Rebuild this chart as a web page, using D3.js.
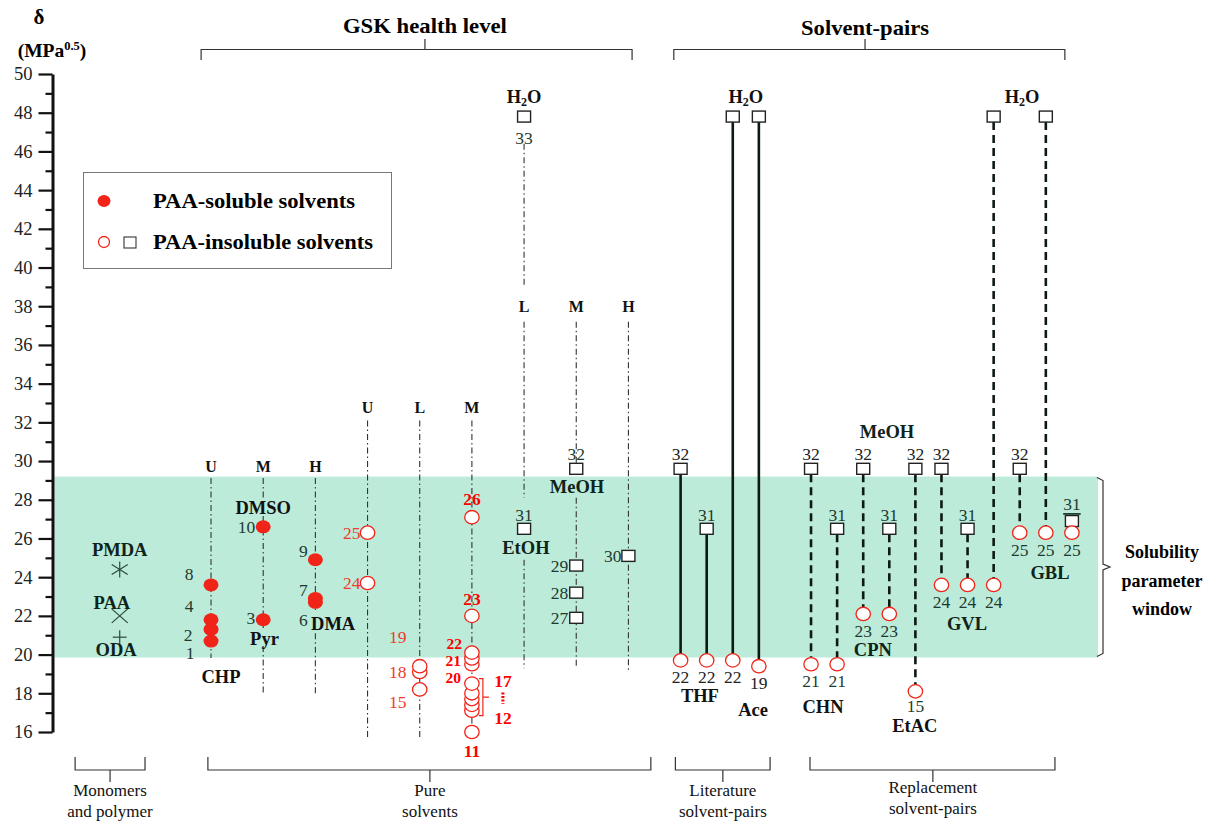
<!DOCTYPE html>
<html><head><meta charset="utf-8">
<script src="https://cdn.jsdelivr.net/npm/d3@7"></script>
<style>
body{margin:0;background:#fff;}
</style></head>
<body><svg id="chart" width="1205" height="822" font-family="Liberation Serif, Times New Roman, DejaVu Serif, serif"></svg>
<script>
// ---------------- DATA ----------------
const yTicks = [16,18,20,22,24,26,28,30,32,34,36,38,40,42,44,46,48,50];
const yMinorTicks = [17,19,21,23,25,27,29,31,33,35,37,39,41,43,45,47,49];
const solubilityWindow = [19.85, 29.2];

const monomers = [
  {name:'PMDA', delta:24.4, symbol:'asterisk'},
  {name:'PAA',  delta:22.0, symbol:'times'},
  {name:'ODA',  delta:20.9, symbol:'plus'}
];

// categorical columns (slot = category index on the x axis)
const columns = [
  {key:'CHP', slot:6,  level:'U', group:'a'},
  {key:'DMSO',slot:8,  level:'M', group:'a'},
  {key:'DMA', slot:10, level:'H', group:'a'},
  {key:'pU',  slot:12, level:'U', group:'b'},
  {key:'pL',  slot:14, level:'L', group:'b'},
  {key:'pM',  slot:16, level:'M', group:'b'},
  {key:'aL',  slot:18, level:'L', group:'c'},
  {key:'aM',  slot:20, level:'M', group:'c'},
  {key:'aH',  slot:22, level:'H', group:'c'}
];

const solubleSolvents = [
  {id:1, col:'CHP', delta:20.7}, {id:2, col:'CHP', delta:21.3},
  {id:4, col:'CHP', delta:21.8}, {id:8, col:'CHP', delta:23.6},
  {id:3, col:'DMSO', delta:21.8}, {id:10, col:'DMSO', delta:26.6},
  {id:6, col:'DMA', delta:22.7}, {id:7, col:'DMA', delta:22.9}, {id:9, col:'DMA', delta:24.9}
];

const insolubleCircles = [
  {id:24, col:'pU', delta:23.7}, {id:25, col:'pU', delta:26.3},
  {id:15, col:'pL', delta:18.2}, {id:18, col:'pL', delta:19.1}, {id:19, col:'pL', delta:19.4},
  {id:11, col:'pM', delta:16.0},
  {id:12, col:'pM', delta:17.1}, {id:13, col:'pM', delta:17.4}, {id:14, col:'pM', delta:17.7},
  {id:16, col:'pM', delta:18.0}, {id:17, col:'pM', delta:18.5},
  {id:20, col:'pM', delta:19.5}, {id:21, col:'pM', delta:19.8}, {id:22, col:'pM', delta:20.1},
  {id:23, col:'pM', delta:22.0}, {id:26, col:'pM', delta:27.1}
];

const insolubleSquares = [
  {id:33, col:'aL', delta:47.8}, {id:31, col:'aL', delta:26.5},
  {id:32, col:'aM', delta:29.6}, {id:29, col:'aM', delta:24.6},
  {id:28, col:'aM', delta:23.2}, {id:27, col:'aM', delta:21.9},
  {id:30, col:'aH', delta:25.1}
];

const literaturePairs = [
  {slot:24, top:32, topDelta:29.6, bottom:22, bottomDelta:19.7},
  {slot:25, top:31, topDelta:26.5, bottom:22, bottomDelta:19.7},
  {slot:26, top:33, topDelta:47.8, bottom:22, bottomDelta:19.7},
  {slot:27, top:33, topDelta:47.8, bottom:19, bottomDelta:19.4}
];

const replacementPairs = [
  {slot:29, top:32, topDelta:29.6, bottom:21, bottomDelta:19.5, line:true},
  {slot:30, top:31, topDelta:26.5, bottom:21, bottomDelta:19.5, line:true},
  {slot:31, top:32, topDelta:29.6, bottom:23, bottomDelta:22.1, line:true},
  {slot:32, top:31, topDelta:26.5, bottom:23, bottomDelta:22.1, line:true},
  {slot:33, top:32, topDelta:29.6, bottom:15, bottomDelta:18.1, line:true},
  {slot:34, top:32, topDelta:29.6, bottom:24, bottomDelta:23.6, line:true},
  {slot:35, top:31, topDelta:26.5, bottom:24, bottomDelta:23.6, line:true},
  {slot:36, top:33, topDelta:47.8, bottom:24, bottomDelta:23.6, line:true},
  {slot:37, top:32, topDelta:29.6, bottom:25, bottomDelta:26.3, line:true},
  {slot:38, top:33, topDelta:47.8, bottom:25, bottomDelta:26.3, line:true},
  {slot:39, top:31, topDelta:26.9, bottom:25, bottomDelta:26.3, line:false}
];

// ---------------- LAYOUT ----------------
const SERIF = "'Liberation Serif','Times New Roman','DejaVu Serif',serif";
const svg = d3.select('#chart');
const x = d3.scaleLinear().domain([0, 40]).range([54.5, 1098]);
const y = d3.scaleLinear().domain([16, 50]).range([732, 74]);
const colX = {}; columns.forEach(c => colX[c.key] = x(c.slot));

const BAND = '#bdebda', RED = '#f02418', NUM = '#1d3a2f', INK = '#111';
const letterDelta = {a:29.74, b:32.79, c:38.01};
const columnSegments = {
  CHP: [[29.12, 19.82]],
  DMSO:[[29.12, 28.0],[27.16, 21.37],[20.44, 18.0]],
  DMA: [[29.12, 22.2],[21.1, 17.9]],
  pU:  [[32.1, 15.6]],
  pL:  [[32.1, 15.6]],
  pM:  [[32.1, 15.6]],
  aL:  [[46.4, 39.0],[37.2, 28.1],[24.9, 19.3]],
  aM:  [[37.2, 29.9],[28.1, 19.3]],
  aH:  [[37.2, 19.2]]
};
// label offsets (dx, dy px, anchor)
const labelLayout = {
  1:[-21,12,'middle'], 2:[-23,6,'middle'], 4:[-22,-14,'middle'], 8:[-22,-11,'middle'],
  3:[-8,-2,'end'], 10:[-8,0,'end'],
  6:[-12,18,'middle'], 7:[-12,-8,'middle'], 9:[-12,-9,'middle'],
  24:[-7,0,'end'], 25:[-7,0,'end'],
  19:[-22,-29,'middle'], 18:[-22,0,'middle'], 15:[-22,13,'middle'],
  26:[0,-18,'middle'], 23:[0,-17,'middle'],
  22:[-10,-9,'end'], 21:[-11,2,'end'], 20:[-11,13.5,'end'], 11:[0,19,'middle'],
  33:[0,21,'middle'], 31:[0,-14,'middle'], 32:[0,-15,'middle'],
  29:[-8,0,'end'], 28:[-8,0,'end'], 27:[-8,0,'end'], 30:[-7,0,'end']
};
const boldRed = new Set([26,23,22,21,20,11]);
const tightLabels = new Set([22,21,20]);

const annotations = [
  {t:'PMDA', slot:2.5, d:25.40}, {t:'PAA', slot:2.2, d:22.67}, {t:'ODA', slot:2.36, d:20.24},
  {t:'CHP', slot:6.38, d:18.84}, {t:'DMSO', slot:8, d:27.55}, {t:'Pyr', slot:8.05, d:20.82},
  {t:'DMA', slot:10.68, d:21.58}, {t:'EtOH', slot:18.07, d:25.51}, {t:'MeOH', slot:20.03, d:28.66},
  {t:'THF', slot:24.74, d:17.86}, {t:'Ace', slot:26.78, d:17.14},
  {t:'MeOH', slot:31.91, d:31.50}, {t:'CHN', slot:29.46, d:17.29}, {t:'CPN', slot:31.37, d:20.24},
  {t:'EtAC', slot:32.98, d:16.33}, {t:'GVL', slot:34.98, d:21.58}, {t:'GBL', slot:38.16, d:24.22}
];
const waterLabels = [18, 26.5, 37.09];

// ---------------- DRAW ----------------
svg.append('rect')
  .attr('x', x(0)).attr('width', x(40) - x(0))
  .attr('y', y(solubilityWindow[1])).attr('height', y(solubilityWindow[0]) - y(solubilityWindow[1]))
  .attr('fill', BAND);

// axis
const axisG = svg.append('g').attr('transform', `translate(${x(0)-2},0)`);
axisG.call(d3.axisLeft(y).tickValues(yTicks).tickSize(14).tickSizeOuter(0).tickPadding(6).tickFormat(d3.format('d')));
axisG.attr('font-family', SERIF);
axisG.select('.domain').attr('stroke', INK).attr('stroke-width', 3);
axisG.selectAll('.tick line').attr('stroke', INK).attr('stroke-width', 2.2);
axisG.selectAll('.tick text').attr('font-size', 18.5).attr('fill', '#222');
const minorG = svg.append('g').attr('transform', `translate(${x(0)-2},0)`);
minorG.call(d3.axisLeft(y).tickValues(yMinorTicks).tickSize(7).tickFormat(''));
minorG.select('.domain').remove();
minorG.selectAll('.tick line').attr('stroke', INK).attr('stroke-width', 2.2);

// axis title
svg.append('text').attr('x', 39).attr('y', 24).attr('text-anchor','middle')
  .attr('font-size', 21).attr('font-weight','bold').text('δ');
const tt = svg.append('text').attr('x', 52).attr('y', 57).attr('text-anchor','middle')
  .attr('font-size', 19.5).attr('font-weight','bold');
tt.append('tspan').text('(MPa');
tt.append('tspan').attr('dy', -7).attr('font-size', 12.5).text('0.5');
tt.append('tspan').attr('dy', 7).text(')');

// column dash-dot lines + level letters
columns.forEach(c => {
  columnSegments[c.key].forEach(s => {
    svg.append('line').attr('x1', colX[c.key]).attr('x2', colX[c.key])
      .attr('y1', y(s[0])).attr('y2', y(s[1]))
      .attr('stroke', '#333').attr('stroke-width', 1.1).attr('stroke-dasharray', '6,3,1.5,3');
  });
  svg.append('text').attr('x', colX[c.key]).attr('y', y(letterDelta[c.group]))
    .attr('dominant-baseline','central').attr('text-anchor','middle')
    .attr('font-size', 16).attr('font-weight','bold').attr('fill', INK).text(c.level);
});

// pair lines
literaturePairs.forEach(p => {
  svg.append('line').attr('x1', x(p.slot)).attr('x2', x(p.slot))
    .attr('y1', y(p.topDelta) + 5.5).attr('y2', y(p.bottomDelta) - 6.5)
    .attr('stroke', '#0d1a12').attr('stroke-width', 2.6);
});
replacementPairs.filter(p => p.line).forEach(p => {
  svg.append('line').attr('x1', x(p.slot)).attr('x2', x(p.slot))
    .attr('y1', y(p.topDelta) + 5.5).attr('y2', y(p.bottomDelta) - 6.5)
    .attr('stroke', '#0d1a12').attr('stroke-width', 2.6).attr('stroke-dasharray', '8,5');
});

// markers
function openCircle(cx, cy) {
  svg.append('ellipse').attr('cx', cx).attr('cy', cy).attr('rx', 7.2).attr('ry', 6.7)
    .attr('fill', '#fff').attr('stroke', RED).attr('stroke-width', 1.3);
}
function square(cx, cy) {
  svg.append('rect').attr('x', cx - 6.5).attr('y', cy - 5.5).attr('width', 13).attr('height', 11)
    .attr('fill', '#fff').attr('stroke', '#222').attr('stroke-width', 1.4);
}
function numLabel(txt, px, py, anchor, color, bold, size) {
  return svg.append('text').attr('x', px).attr('y', py).attr('text-anchor', anchor || 'middle')
    .attr('dominant-baseline','central').attr('font-size', size || 17.5)
    .attr('font-weight', bold ? 'bold' : 'normal').attr('fill', color).text(txt);
}

solubleSolvents.forEach(d => {
  svg.append('ellipse').attr('cx', colX[d.col]).attr('cy', y(d.delta)).attr('rx', 7.5).attr('ry', 6.5)
    .attr('fill', RED);
});
insolubleCircles.slice().sort((a,b)=>a.delta-b.delta).forEach(d => openCircle(colX[d.col], y(d.delta)));
insolubleSquares.forEach(d => square(colX[d.col], y(d.delta)));
literaturePairs.concat(replacementPairs).forEach(p => {
  square(x(p.slot), y(p.topDelta));
  openCircle(x(p.slot), y(p.bottomDelta));
});

// point labels
solubleSolvents.concat(insolubleSquares).forEach(d => {
  const L = labelLayout[d.id];
  numLabel(d.id, colX[d.col] + L[0], y(d.delta) + L[1], L[2], NUM, false);
});
insolubleCircles.forEach(d => {
  const L = labelLayout[d.id];
  if (!L) return;
  const bold = boldRed.has(d.id);
  numLabel(d.id, colX[d.col] + L[0], y(d.delta) + L[1], L[2], bold ? '#f00' : '#ee3b2b', bold,
    tightLabels.has(d.id) ? 15.5 : 17.5);
});
literaturePairs.concat(replacementPairs).forEach(p => {
  const topDy = p.top === 31 ? -14 : -15;
  if (p.top !== 33) {
    const t = numLabel(p.top, x(p.slot), y(p.topDelta) + topDy - (p.slot === 39 ? 3 : 0), 'middle',
      p.top === 32 ? '#222' : NUM, false);
    if (p.slot === 39) t.attr('text-decoration','underline');
  }
  numLabel(p.bottom, x(p.slot), y(p.bottomDelta) + (p.bottom === 15 ? 15 : 17), 'middle', p.slot < 29 ? '#222' : NUM, false);
});

// 12-17 bracket
const c17 = insolubleCircles.find(d => d.id === 17), c12 = insolubleCircles.find(d => d.id === 12);
const bx = colX.pM + 11, bt = y(c17.delta) - 5, bb = y(c12.delta) + 5;
svg.append('path').attr('d', `M${bx-4},${bt} L${bx},${bt} L${bx},${bb} L${bx-4},${bb} M${bx},${(bt+bb)/2} L${bx+6},${(bt+bb)/2}`)
  .attr('fill','none').attr('stroke', RED).attr('stroke-width', 1.2);
numLabel('17', bx + 20, bt + 2, 'middle', '#f00', true);
numLabel('12', bx + 20, bb + 2, 'middle', '#f00', true);
svg.append('line').attr('x1', bx + 20).attr('x2', bx + 20).attr('y1', bt + 14).attr('y2', bb - 12)
  .attr('stroke', '#f00').attr('stroke-width', 3).attr('stroke-dasharray', '2,1.5');

// monomers
monomers.forEach(m => {
  const cx = x(2.5), cy = y(m.delta), g = svg.append('g').attr('stroke', '#2a4a3a').attr('stroke-width', 1.2);
  if (m.symbol === 'asterisk') {
    g.append('line').attr('x1', cx).attr('x2', cx).attr('y1', cy-8).attr('y2', cy+8);
    g.append('line').attr('x1', cx-8).attr('x2', cx+8).attr('y1', cy-5).attr('y2', cy+5);
    g.append('line').attr('x1', cx-8).attr('x2', cx+8).attr('y1', cy+5).attr('y2', cy-5);
  } else if (m.symbol === 'times') {
    g.append('line').attr('x1', cx-8).attr('x2', cx+8).attr('y1', cy-7).attr('y2', cy+7);
    g.append('line').attr('x1', cx-8).attr('x2', cx+8).attr('y1', cy+7).attr('y2', cy-7);
  } else {
    g.append('line').attr('x1', cx-7).attr('x2', cx+7).attr('y1', cy).attr('y2', cy);
    g.append('line').attr('x1', cx).attr('x2', cx).attr('y1', cy-7).attr('y2', cy+7);
  }
});

// annotations
annotations.forEach(a => {
  svg.append('text').attr('x', x(a.slot)).attr('y', y(a.d)).attr('text-anchor','middle')
    .attr('dominant-baseline','central').attr('font-size', 18.5).attr('font-weight','bold')
    .attr('fill', /^(PMDA|PAA|ODA|EtOH|MeOH|CPN|GVL|GBL)$/.test(a.t) ? '#0f2419' : INK).text(a.t);
});
waterLabels.forEach(s => {
  const t = svg.append('text').attr('x', x(s)).attr('y', y(48.81)).attr('text-anchor','middle')
    .attr('dominant-baseline','central').attr('font-size', 18.5).attr('font-weight','bold').attr('fill', INK);
  t.append('tspan').text('H');
  t.append('tspan').attr('dy', 5).attr('font-size', 12).text('2');
  t.append('tspan').attr('dy', -5).text('O');
});

// legend
svg.append('rect').attr('x', 83.5).attr('y', 172.5).attr('width', 308).attr('height', 96)
  .attr('fill', '#fff').attr('stroke', '#777').attr('stroke-width', 1);
svg.append('ellipse').attr('cx', 104).attr('cy', 201).attr('rx', 6.5).attr('ry', 6).attr('fill', RED);
svg.append('ellipse').attr('cx', 104).attr('cy', 242).attr('rx', 5.5).attr('ry', 5.5).attr('fill','#fff').attr('stroke', RED).attr('stroke-width', 1.3);
svg.append('rect').attr('x', 124).attr('y', 237).attr('width', 12).attr('height', 11).attr('fill','#fff').attr('stroke','#333').attr('stroke-width', 1.1);
[['PAA-soluble solvents', 201, 202], ['PAA-insoluble solvents', 242, 220]].forEach(l => {
  svg.append('text').attr('x', 153).attr('y', l[1]).attr('dominant-baseline','central')
    .attr('font-size', 20).attr('font-weight','bold')
    .attr('textLength', l[2]).attr('lengthAdjust', 'spacingAndGlyphs').text(l[0]);
});

// braces
function hBrace(s1, s2, sc, yLine, yEnd, yTip) {
  const x1 = x(s1), x2 = x(s2), xc = x(sc);
  svg.append('path')
    .attr('d', `M${x1},${yEnd} L${x1},${yLine} L${xc},${yLine} L${xc},${yTip} M${xc},${yLine} L${x2},${yLine} L${x2},${yEnd}`)
    .attr('fill','none').attr('stroke', '#333').attr('stroke-width', 1.2);
}
hBrace(5.62, 22.14, 14.2, 49.5, 60, 39);
hBrace(23.74, 38.73, 31.07, 49.5, 60, 39);
svg.append('text').attr('x', x(14.2)).attr('y', 26).attr('text-anchor','middle').attr('dominant-baseline','central')
  .attr('font-size', 21).attr('font-weight','bold')
  .attr('textLength', 164).attr('lengthAdjust','spacingAndGlyphs').text('GSK health level');
svg.append('text').attr('x', x(31.07)).attr('y', 28).attr('text-anchor','middle').attr('dominant-baseline','central')
  .attr('font-size', 21).attr('font-weight','bold')
  .attr('textLength', 128).attr('lengthAdjust','spacingAndGlyphs').text('Solvent-pairs');

const bottomGroups = [
  {s1:0.79, s2:3.47, sc:2.13, lines:['Monomers','and polymer']},
  {s1:5.88, s2:22.86, sc:14.39, lines:['Pure','solvents']},
  {s1:23.8, s2:27.43, sc:25.62, lines:['Literature','solvent-pairs']},
  {s1:28.96, s2:38.35, sc:33.67, lines:['Replacement','solvent-pairs']}
];
bottomGroups.forEach((g, i) => {
  hBrace(g.s1, g.s2, g.sc, 770, 757, 782);
  g.lines.forEach((l, j) => {
    svg.append('text').attr('x', x(g.sc)).attr('y', (i === 3 ? 787 : 790) + j * 21)
      .attr('text-anchor','middle').attr('dominant-baseline','central')
      .attr('font-size', 17).attr('fill', '#111').text(l);
  });
});

// right vertical brace for the window
const ry1 = y(solubilityWindow[1]) + 1, ry2 = y(solubilityWindow[0]) - 1, rx = x(40) + 5, rm = (ry1 + ry2) / 2;
svg.append('path')
  .attr('d', `M${rx-6},${ry1} L${rx},${ry1+3} L${rx},${rm-3} L${rx+7},${rm} L${rx},${rm+3} L${rx},${ry2-3} L${rx-6},${ry2}`)
  .attr('fill','none').attr('stroke','#333').attr('stroke-width', 1.2);
['Solubility','parameter','window'].forEach((l, j) => {
  svg.append('text').attr('x', 1162).attr('y', 552 + j * 28.5).attr('text-anchor','middle')
    .attr('dominant-baseline','central').attr('font-size', 18).attr('font-weight','bold').text(l);
});

// serif font on every text
svg.selectAll('text').attr('font-family', SERIF).style('font-family', SERIF);
</script>
</body></html>
